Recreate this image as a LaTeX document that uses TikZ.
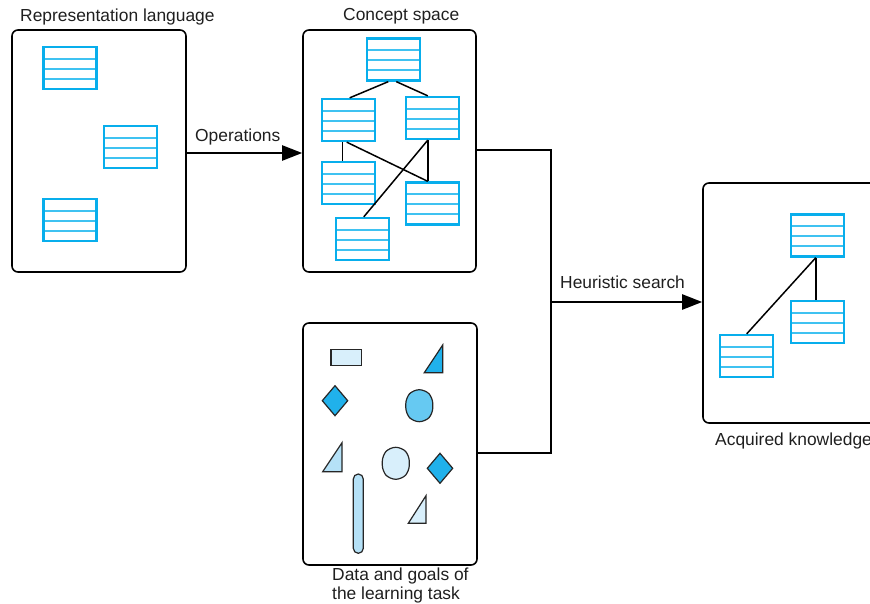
\documentclass[tikz,border=0pt]{standalone}
\usepackage{fontspec}
\setmainfont{Liberation Sans}
\usetikzlibrary{arrows.meta,calc}

\definecolor{tblblue}{HTML}{08AEEC}
\definecolor{rowblue}{HTML}{3FC2F1}
\definecolor{paleblue}{HTML}{D8EFFB}
\definecolor{lightblue}{HTML}{B5E1F7}
\definecolor{midblue}{HTML}{66C9F2}
\definecolor{deepblue}{HTML}{20B1EB}

\tikzset{
  lbl/.style={font=\fontsize{17.4}{20}\selectfont, text=black!88, inner sep=0pt, anchor=base west},
  panel/.style={draw=black, line width=1.6pt, rounded corners=6pt, inner sep=0pt},
  tbl/.style={draw=tblblue, line width=2.3pt, fill=white, minimum width=53pt, minimum height=42pt, inner sep=0pt,
    path picture={
      \foreach \f in {0.28,0.52,0.76}
        \draw[rowblue, line width=1.9pt]
          ($(path picture bounding box.north west)!\f!(path picture bounding box.south west)$) --
          ($(path picture bounding box.north east)!\f!(path picture bounding box.south east)$);
    }},
  edge/.style={draw=black, line width=1.5pt},
  bus/.style={draw=black, line width=2.4pt},
  bighead/.style={-{Triangle[length=20pt,width=15pt]}},
  shp/.style={draw=black!85, line width=1.2pt}
}

\begin{document}
\begin{tikzpicture}[x=1pt,y=-1pt]
  \useasboundingbox (0,0) rectangle (870,604);
  \clip (0,0) rectangle (870,604);

  % panels
  \node[panel, minimum width=174pt, minimum height=242pt] (rep) at (99,151) {};
  \node[panel, minimum width=173pt, minimum height=242pt] (concept) at (389.5,151) {};
  \node[panel, minimum width=174pt, minimum height=242pt] (data) at (390,444) {};
  \node[panel, minimum width=190pt, minimum height=240pt] (acq) at (798,303) {};

  % panel captions
  \node[lbl] (repcap) at (20,22) {Representation language};
  \node[lbl] (conceptcap) at (343,21) {Concept space};
  \node[lbl] (datacap1) at (332,580) {Data and goals of};
  \node[lbl] (datacap2) at (332,599) {the learning task};
  \node[lbl] (acqcap) at (715,445) {Acquired knowledge};

  % representation language: loose frames
  \node[tbl] (t1) at (70,68) {};
  \node[tbl] (t2) at (130.5,147) {};
  \node[tbl] (t3) at (70,220) {};

  % concept space: frame hierarchy
  \node[tbl] (c1) at (393.3,59.5) {};
  \node[tbl] (c2) at (348.7,120) {};
  \node[tbl] (c3) at (432.8,118) {};
  \node[tbl] (c4) at (348.7,183) {};
  \node[tbl] (c5) at (432.8,203.5) {};
  \node[tbl] (c6) at (362.8,239) {};
  \draw[edge] ([xshift=-5pt]c1.south) -- ([xshift=1pt]c2.north);
  \draw[edge] ([xshift=3pt]c1.south) -- ([xshift=-5pt]c3.north);
  \draw[edge] ([xshift=-6pt]c2.south) -- ([xshift=-6pt]c4.north);
  \draw[edge] ([xshift=-2pt]c2.south) -- ([xshift=-5pt]c5.north);
  \draw[edge] ([xshift=-5pt]c3.south) -- ([xshift=-5pt]c5.north);
  \draw[edge] ([xshift=-5pt]c3.south) -- ([xshift=1pt]c6.north);

  % acquired knowledge
  \node[tbl] (a1) at (817.8,235.5) {};
  \node[tbl] (a2) at (817.8,322) {};
  \node[tbl] (a3) at (746.7,356) {};
  \draw[edge] ([xshift=-2pt]a1.south) -- ([xshift=-2pt]a2.north);
  \draw[edge] ([xshift=-2pt]a1.south) -- (a3.north);

  % data and goals: assorted shapes
  \draw[shp, fill=paleblue] (331,349.3) rectangle (361.7,365.7);
  \draw[shp, fill=deepblue] (424.3,372.7) -- (442.7,372.7) -- (442.7,345) -- cycle;
  \draw[shp, fill=deepblue] (335,385.7) -- (347.7,400.7) -- (335,415.7) -- (322.3,400.7) -- cycle;
  \draw[shp, fill=midblue, rounded corners=6pt]
    (405.8,397.7) -- (413.3,389.7) -- (425.3,389.7) -- (432.8,397.7) -- (432.8,413.7)
    -- (425.3,421.7) -- (413.3,421.7) -- (405.8,413.7) -- cycle;
  \draw[shp, fill=lightblue] (322.7,471.7) -- (342,471.7) -- (342,442.7) -- cycle;
  \draw[shp, fill=paleblue, rounded corners=6pt]
    (382.3,455.3) -- (389.8,447.3) -- (401.8,447.3) -- (409.3,455.3) -- (409.3,471.3)
    -- (401.8,479.3) -- (389.8,479.3) -- (382.3,471.3) -- cycle;
  \draw[shp, fill=deepblue] (440,453.3) -- (452.7,468.3) -- (440,483.3) -- (427.3,468.3) -- cycle;
  \draw[shp, fill=lightblue, rounded corners=5pt] (353.3,474) rectangle (363.3,553.3);
  \draw[shp, fill=paleblue] (408.3,523.3) -- (426,523.3) -- (426,495.7) -- cycle;

  % operations arrow
  \draw[line width=2.2pt, bighead] ([yshift=-2pt]rep.east) -- ([yshift=-2pt]concept.west);
  \node[lbl] (oplbl) at (195,142) {Operations};

  % heuristic search connector
  \coordinate (hs) at (551,302);
  \draw[bus] ([yshift=1pt]concept.east) -| (hs);
  \draw[bus] ([yshift=-9pt]data.east) -| (hs);
  \draw[bus, bighead] (hs) -- (acq.west |- hs);
  \node[lbl] (hslbl) at (560,288) {Heuristic search};
\end{tikzpicture}
\end{document}
